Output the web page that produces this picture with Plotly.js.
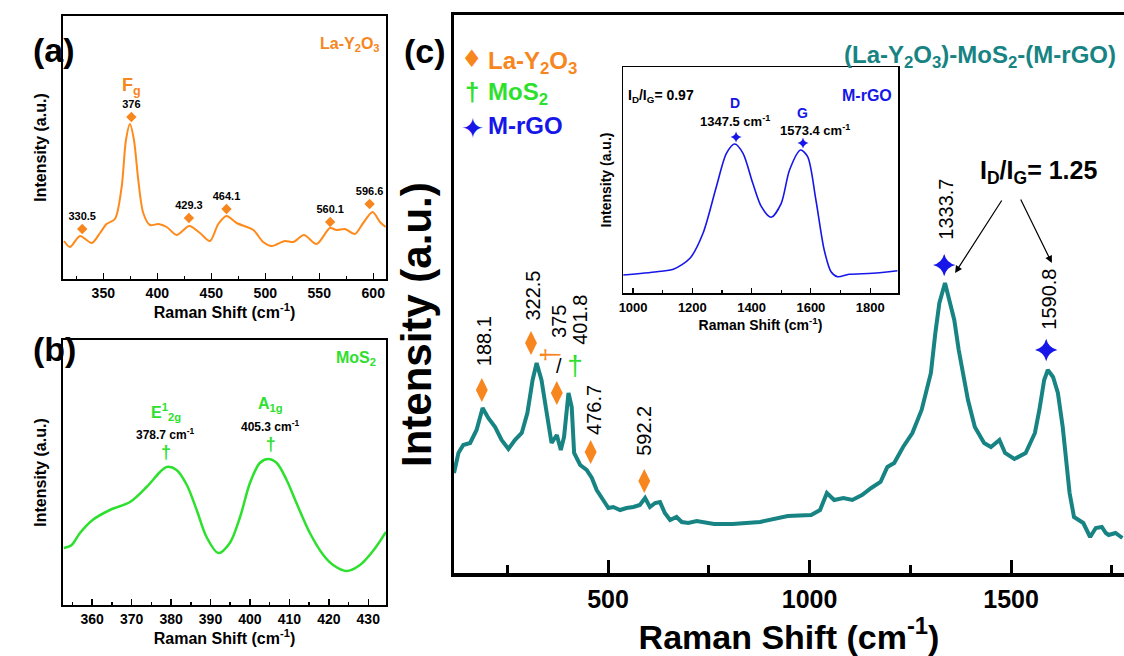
<!DOCTYPE html>
<html><head><meta charset="utf-8">
<script src="https://cdn.plot.ly/plotly-3.0.1.min.js"></script>
<style>html,body{margin:0;padding:0;background:#fff}#chart{width:1124px;height:656px}</style>
</head><body><div id="chart"></div>
<script>
// ---------- DATA ----------
// (a) La-Y2O3 Raman spectrum
const aShift = [313.6,319.2,328.4,339.3,347,353,360.8,367,371,374.7,378.4,382.4,387,393.2,401,408.7,418,429.6,439.5,448.8,456.5,464.2,473.5,488.9,498,505.9,518.2,526,535.8,547.6,559.9,566,573.8,583,590.7,599.4,606.2,611.5];
const aInt   = [38,32,43,36,46,55,60,92,139,155,139,99,66,54,55,52,44,53,46,38,55,63,56,49,37,33,38,37,44,35,51,49,50,45,56,67,57,52];
const aPeaks = [330.5,376,429.3,464.1,560.1,596.6];
const aPeakMark = [50,162,61,70,57,75];
const aPeakLabels = ['330.5','376','429.3','464.1','560.1','596.6'];

// (b) MoS2 Raman spectrum
const bShift = [352.8,354.8,356.9,360.1,364.5,369.6,373.8,377.2,378.9,381.4,384,386.5,389,392,394.9,397.5,400,402.5,404.6,406.8,409.3,411.8,415.2,418.6,421.1,424.5,427.9,431.4,434.5];
const bInt   = [57,60,72,85,95,103,118,133,138,135,120,95,68,52,62,88,122,142,146,142,125,102,72,50,40,34,40,55,73];
const bPeaks = [378.7,405.3];
const bPeakMark = [152,160];
const bModes = ['E<sup>1</sup><sub>2g</sub>','A<sub>1g</sub>'];
const bPeakLabels = ['378.7 cm<sup>-1</sup>','405.3 cm<sup>-1</sup>'];

// (c) (La-Y2O3)-MoS2-(M-rGO) Raman spectrum
const cShift = [118,129,141,158,174,189,203,220,236,253,269,286,300,313,323,335,348,360,373,383,391,402,410,416,431,447,460,472,488,501,513,530,546,563,579,592,604,617,629,641,654,670,683,699,720,763,809,877,946,1004,1026,1043,1061,1084,1106,1130,1153,1176,1193,1210,1232,1255,1278,1301,1312,1322,1336,1347,1359,1370,1393,1410,1433,1450,1471,1485,1508,1536,1559,1570,1582,1591,1604,1616,1628,1645,1656,1679,1696,1710,1725,1735,1742,1759,1776];
const cInt   = [100,120,128,130,143,165,155,146,133,124,133,140,160,193,210,193,160,130,138,123,136,180,166,120,108,103,95,83,73,65,66,63,65,66,68,75,66,70,71,60,53,56,51,50,52,49,49,51,57,58,63,80,73,75,73,78,85,91,106,110,126,140,163,200,240,270,290,273,253,223,173,146,130,126,133,120,114,120,140,163,193,203,196,180,146,80,56,50,36,45,46,40,38,40,35];
const cDiamondX = [187,309,373,457,590];
const cDiamondY = [183,230,180,121,92];
const cStarX = [1334,1587];
const cStarY = [308,223];
const cDaggerX = [418];
const cDaggerY = [205];
const cLabelX = [193,313,377,430,465,589,1339,1592];
const cLabelY = [205,250,233,226,136,115,331,241];
const cLabels = ['188.1','322.5','375','401.8','476.7','592.2','1333.7','1590.8'];

// inset: M-rGO Raman spectrum
const mShift = [967,1080,1136,1192,1236,1281,1315,1343,1371,1404,1433,1466,1500,1528,1565,1589,1617,1645,1668,1690,1729,1808,1892];
const mInt   = [18,21.3,23.7,34.7,59.7,106.3,139.7,149,139.7,109.7,86.3,75.7,89.7,123,143,136.3,93,43,21.3,16.3,18.7,19.7,22.3];
const mPeaks = [1347.5,1573.4];
const mPeakMark = [156,150];

// ---------- STYLE ----------
const FONT = 'Arial, "Liberation Sans", sans-serif';
const ORANGE = '#F7861E', GREEN = '#2EE02E', BLUE = '#1616E8', TEAL = '#178383';
const W = 1124, H = 656;
const px = v => v / W, py = v => 1 - v / H;

const traces = [
  {x:aShift, y:aInt, xaxis:'x', yaxis:'y', mode:'lines', line:{color:'#FF8A1C', width:2, shape:'spline', smoothing:0.8}},
  {x:aPeaks, y:aPeakMark, xaxis:'x', yaxis:'y', mode:'markers+text', marker:{symbol:'diamond', size:8, color:ORANGE},
   text:aPeakLabels, textposition:'top center', textfont:{family:FONT, size:11, color:'#000', weight:'bold'}},
  {x:bShift, y:bInt, xaxis:'x2', yaxis:'y2', mode:'lines', line:{color:GREEN, width:2.5, shape:'spline', smoothing:0.9}},
  {x:bPeaks, y:bPeakMark, xaxis:'x2', yaxis:'y2', mode:'text', text:bPeaks.map(()=>'†'),
   textfont:{family:FONT, size:18, color:GREEN, weight:'bold'}},
  {x:cShift, y:cInt, xaxis:'x3', yaxis:'y3', mode:'lines', line:{color:TEAL, width:4}},
  {x:cDiamondX, y:cDiamondY, xaxis:'x3', yaxis:'y3', mode:'markers', marker:{symbol:'diamond-tall', size:17, color:ORANGE}},
  {x:cStarX, y:cStarY, xaxis:'x3', yaxis:'y3', mode:'markers', marker:{symbol:'star-diamond', size:16, color:BLUE}},
  {x:cDaggerX, y:cDaggerY, xaxis:'x3', yaxis:'y3', mode:'text', text:cDaggerX.map(()=>'†'),
   textfont:{family:FONT, size:28, color:GREEN}},
  {x:mShift, y:mInt, xaxis:'x4', yaxis:'y4', mode:'lines', line:{color:BLUE, width:1.6, shape:'spline', smoothing:0.8}},
  {x:mPeaks, y:mPeakMark, xaxis:'x4', yaxis:'y4', mode:'markers', marker:{symbol:'star-diamond', size:8, color:BLUE}}
];

function xAx(dom, anchor, range, dtick, opts) {
  return Object.assign({
    domain:dom, anchor:anchor, range:range, showline:true, linecolor:'#000', mirror:true,
    ticks:'inside', tick0:0, dtick:dtick, showgrid:false, zeroline:false, color:'#000'
  }, opts);
}
function yAx(dom, anchor, range, opts) {
  return Object.assign({
    domain:dom, anchor:anchor, range:range, showline:true, linecolor:'#000', mirror:true,
    ticks:'', showticklabels:false, showgrid:false, zeroline:false
  }, opts);
}
const bold = (s, c) => ({family:FONT, size:s, weight:'bold', color:c || '#000'});

const layout = {
  width:W, height:H, margin:{l:0, r:0, t:0, b:0}, showlegend:false,
  paper_bgcolor:'#fff', plot_bgcolor:'rgba(0,0,0,0)', font:{family:FONT, color:'#000'},
  xaxis: xAx([px(63),px(386)], 'y', [312.7,611.8], 50, {linewidth:2, ticklen:6, tickwidth:1.5,
    minor:{ticks:'inside', dtick:25, tick0:0, ticklen:3, tickwidth:1.5}, tickfont:bold(14), ticklabelstandoff:0,
    title:{text:'Raman Shift (cm<sup>-1</sup>)', font:bold(16), standoff:0}}),
  yaxis: yAx([py(279),py(16)], 'x', [0,263], {linewidth:2,
    title:{text:'Intensity (a.u.)', font:bold(16), standoff:10}}),
  xaxis2: xAx([px(63),px(386)], 'y2', [352.6,434.5], 10, {linewidth:2, ticklen:6, tickwidth:1.5,
    minor:{ticks:'inside', dtick:5, tick0:0, ticklen:3, tickwidth:1.5}, tickfont:bold(14), ticklabelstandoff:0,
    title:{text:'Raman Shift (cm<sup>-1</sup>)', font:bold(16), standoff:0}}),
  yaxis2: yAx([py(605),py(340)], 'x2', [0,265], {linewidth:2,
    title:{text:'Intensity (a.u.)', font:bold(16), standoff:10}}),
  xaxis3: xAx([px(454),1], 'y3', [118,1780], 500, {linewidth:3.5, ticklen:13, tickwidth:3,
    minor:{ticks:'inside', dtick:250, tick0:0, ticklen:8, tickwidth:3}, tickfont:bold(25), ticklabelstandoff:1,
    title:{text:'Raman Shift (cm<sup>-1</sup>)', font:bold(34), standoff:2}}),
  yaxis3: yAx([py(573),py(15)], 'x3', [0,558], {linewidth:3.5}),
  xaxis4: xAx([px(623),px(898)], 'y4', [966,1894], 200, {linewidth:1.5, ticklen:5, tickwidth:1.2,
    minor:{ticks:'inside', dtick:100, tick0:0, ticklen:3, tickwidth:1.2}, tickfont:bold(13), ticklabelstandoff:2,
    title:{text:'Raman Shift (cm<sup>-1</sup>)', font:bold(14), standoff:6}}),
  yaxis4: yAx([py(293),py(67)], 'x4', [0,226], {linewidth:1.5,
    title:{text:'Intensity (a.u.)', font:bold(14), standoff:6}}),
  annotations: []
};

const A = layout.annotations;
function ann(o) { A.push(Object.assign({showarrow:false}, o)); }
// panel letters
ann({xref:'paper', yref:'paper', x:px(31), y:py(29), text:'(a)', font:bold(34)});
ann({xref:'paper', yref:'paper', x:px(31), y:py(349), text:'(b)', font:bold(34)});
ann({xref:'paper', yref:'paper', x:px(425), y:py(30), text:'(c)', font:bold(34)});
// (c) y-axis title (placed as in the reference, below the axis centre)
ann({xref:'paper', yref:'paper', x:px(416), y:py(324), textangle:-90, text:'Intensity (a.u.)', font:bold(42)});
// (a)
ann({xref:'paper', yref:'paper', x:px(382), xanchor:'right', y:py(33), text:'La-Y<sub>2</sub>O<sub>3</sub>', font:bold(16, ORANGE)});
ann({xref:'x', yref:'y', x:376, y:179, yanchor:'bottom', text:'F<sub>g</sub>', font:bold(18, ORANGE)});
// (b)
ann({xref:'paper', yref:'paper', x:px(378), xanchor:'right', y:py(358), text:'MoS<sub>2</sub>', font:bold(16, GREEN)});
bPeaks.forEach((p, i) => {
  ann({xref:'x2', yref:'y2', x:p, y:bPeakMark[i] + 41, text:bModes[i], font:bold(16, GREEN)});
  ann({xref:'x2', yref:'y2', x:p, y:bPeakMark[i] + 19, text:bPeakLabels[i], font:bold(12)});
});
// (c) legend + title
ann({xref:'paper', yref:'paper', x:px(472), y:py(43), text:'♦', font:{family:'DejaVu Sans', size:24, color:ORANGE}});
ann({xref:'paper', yref:'paper', x:px(486), xanchor:'left', y:py(45), text:'La-Y<sub>2</sub>O<sub>3</sub>', font:bold(24, ORANGE)});
ann({xref:'paper', yref:'paper', x:px(472), y:py(75), text:'†', font:bold(26, GREEN)});
ann({xref:'paper', yref:'paper', x:px(486), xanchor:'left', y:py(76), text:'MoS<sub>2</sub>', font:bold(24, GREEN)});
ann({xref:'paper', yref:'paper', x:px(472), y:py(110), text:'✦', font:{family:'DejaVu Sans', size:28, color:BLUE}});
ann({xref:'paper', yref:'paper', x:px(486), xanchor:'left', y:py(110), text:'M-rGO', font:bold(24, BLUE)});
ann({xref:'paper', yref:'paper', x:px(1118), xanchor:'right', y:py(39), text:'(La-Y<sub>2</sub>O<sub>3</sub>)-MoS<sub>2</sub>-(M-rGO)', font:bold(24, TEAL)});
// (c) peak labels
cLabels.forEach((t, i) => ann({xref:'x3', yref:'y3', x:cLabelX[i], y:cLabelY[i], yanchor:'bottom', textangle:-90, text:t, font:{family:FONT, size:20, color:'#000'}}));
ann({xref:'x3', yref:'y3', x:356, y:218, textangle:-90, text:'†', font:{family:FONT, size:26, color:ORANGE}});
ann({xref:'x3', yref:'y3', x:379, y:207, text:'/', font:{family:FONT, size:20, color:'#000'}});
ann({xref:'x3', yref:'y3', x:1567, y:383, yanchor:'bottom', text:'I<sub>D</sub>/I<sub>G</sub>= 1.25', font:bold(25)});
ann({xref:'x3', yref:'y3', axref:'x3', ayref:'y3', x:1361, y:300, ax:1479, ay:374, showarrow:true, arrowhead:2, arrowsize:1.2, arrowwidth:1.2, arrowcolor:'#000', text:''});
ann({xref:'x3', yref:'y3', axref:'x3', ayref:'y3', x:1601, y:310, ax:1522, ay:375, showarrow:true, arrowhead:2, arrowsize:1.2, arrowwidth:1.2, arrowcolor:'#000', text:''});
// inset
ann({xref:'paper', yref:'paper', x:px(626), xanchor:'left', y:py(85), text:'I<sub>D</sub>/I<sub>G</sub>= 0.97', font:bold(14)});
ann({xref:'paper', yref:'paper', x:px(894), xanchor:'right', y:py(85), text:'M-rGO', font:bold(16, BLUE)});
ann({xref:'x4', yref:'y4', x:1343, y:190, text:'D', font:bold(14, BLUE)});
ann({xref:'x4', yref:'y4', x:1343, y:172, text:'1347.5 cm<sup>-1</sup>', font:bold(13)});
ann({xref:'x4', yref:'y4', x:1571, y:180, text:'G', font:bold(14, BLUE)});
ann({xref:'x4', yref:'y4', x:1615, y:163, text:'1573.4 cm<sup>-1</sup>', font:bold(13)});

Plotly.newPlot('chart', traces, layout, {staticPlot:true, displayModeBar:false});
</script></body></html>
